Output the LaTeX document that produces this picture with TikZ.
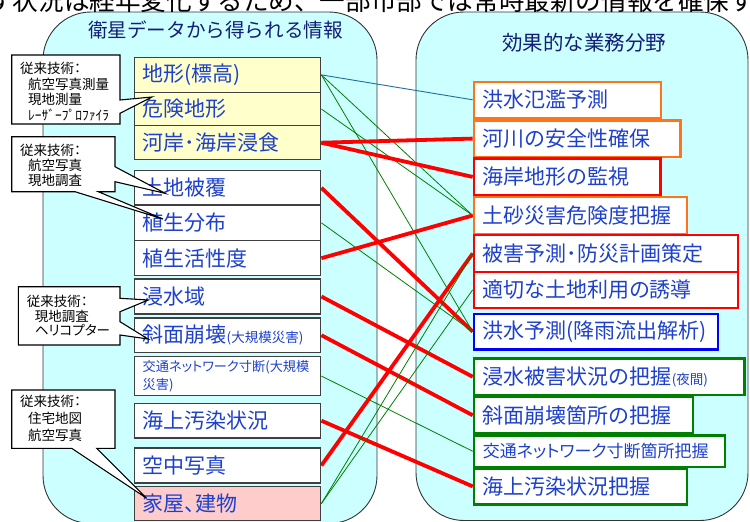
\documentclass[tikz,border=0pt]{standalone}
\usepackage{fontspec}
\setmainfont{Noto Sans CJK JP}[RawFeature={+palt}]
\newfontfamily\fullw{Noto Sans CJK JP}
\pgfdeclarelayer{bg}
\pgfdeclarelayer{mid}
\pgfsetlayers{bg,mid,main}
\definecolor{cyanfill}{RGB}{204,255,255}
\definecolor{ylw}{RGB}{255,255,204}
\definecolor{pnk}{RGB}{255,204,204}
\definecolor{txtblue}{RGB}{30,65,205}
\definecolor{navy}{RGB}{20,30,120}
\definecolor{org}{RGB}{255,115,25}
\definecolor{rd}{RGB}{255,0,0}
\definecolor{grn}{RGB}{0,128,0}
\definecolor{blu}{RGB}{0,0,255}
\definecolor{lnblue}{RGB}{30,110,160}
\tikzset{
  panel/.style={fill=cyanfill, draw=black!80, line width=0.9pt, rounded corners=48pt},
  lbox/.style={draw=black!75, line width=1.4pt, anchor=north west, inner xsep=8.5pt, inner ysep=0pt,
    align=left, text width=169.5pt, font=\fontsize{21}{24}\selectfont, text=txtblue, fill=white},
  rbox/.style={line width=2.2pt, anchor=north west, inner xsep=9pt, inner ysep=0pt,
    align=left, font=\fontsize{21}{24}\selectfont, text=txtblue, fill=white},
  redln/.style={draw=rd, line width=3.8pt},
  grnln/.style={draw=grn, line width=0.8pt},
  bluln/.style={draw=lnblue, line width=0.9pt},
  callout/.style={fill=white, draw=black, line width=1.1pt},
  ctext/.style={anchor=west, inner sep=0pt, align=left, text=black},
  titletext/.style={text=navy, inner sep=0pt}
}
\newcommand{\smalltxt}[1]{{\fontsize{13.5}{15}\selectfont #1}}
\begin{document}
\begin{tikzpicture}[x=1pt,y=-1pt]
\useasboundingbox (0,0) rectangle (750,522);

% panels
\begin{pgfonlayer}{bg}
\path[panel] (43,12) rectangle (377,523.5);
\path[panel] (416,12) rectangle (748,520.5);
\end{pgfonlayer}

% top cut text
\node[anchor=base west, inner sep=0pt, font=\fullw\fontsize{25.6}{30}\selectfont] (top) at (-13,10.5)
  {す状況は経年変化するため、一部市部では常時最新の情報を確保す};

% titles
\node[titletext, font=\fullw\fontsize{19.6}{24}\selectfont] (ttl) at (215.5,30) {衛星データから得られる情報};
\node[titletext, font=\fullw\fontsize{20.5}{24}\selectfont] (ttr) at (584,43) {効果的な業務分野};

% left boxes
\node[lbox, fill=ylw, minimum height=35pt]   (l1) at (133.5,56.7)  {地形(標高)};
\node[lbox, fill=ylw, minimum height=33.3pt] (l2) at (133.5,91.7)  {危険地形};
\node[lbox, fill=ylw, minimum height=34pt]   (l3) at (133.5,125)   {河岸･海岸浸食};
\node[lbox, minimum height=34.3pt] (l4) at (133.5,170)   {土地被覆};
\node[lbox, minimum height=35.7pt] (l5) at (133.5,204.3) {植生分布};
\node[lbox, minimum height=35pt]   (l6) at (133.5,240)   {植生活性度};
\node[lbox, minimum height=35pt]   (l7) at (133.5,278.3) {浸水域};
\node[lbox, minimum height=34.4pt] (l8) at (133.5,317.3) {斜面崩壊\smalltxt{(大規模災害)}};
\node[lbox, minimum height=39.3pt, font=\fontsize{13.2}{18}\selectfont] (l9) at (133.5,355.7)
  {交通ネットワーク寸断(大規模\\災害)};
\node[lbox, minimum height=34.6pt] (l10) at (133.5,402.7) {海上汚染状況};
\node[lbox, minimum height=35pt]   (l11) at (133.5,447.3) {空中写真};
\node[lbox, fill=pnk, minimum height=34.3pt] (l12) at (133.5,485.7) {家屋、建物};

% right boxes
\node[rbox, draw=org, text width=169.3pt, minimum height=36pt]   (r1) at (472.7,80.7)  {洪水氾濫予測};
\node[rbox, draw=org, text width=188.6pt, minimum height=36.4pt] (r2) at (472.7,119.3) {河川の安全性確保};
\node[rbox, draw=rd,  text width=168.6pt, minimum height=37pt]   (r3) at (472.7,157.3) {海岸地形の監視};
\node[rbox, draw=org, text width=195.3pt, minimum height=36.7pt] (r4) at (472.7,196)   {土砂災害危険度把握};
\node[rbox, draw=rd,  text width=246pt,   minimum height=36.7pt] (r5) at (472.7,234)   {被害予測･防災計画策定};
\node[rbox, draw=rd,  text width=246pt,   minimum height=36pt]   (r6) at (472.7,270.7) {適切な土地利用の誘導};
\node[rbox, draw=blu, text width=226pt,   minimum height=35.6pt] (r7) at (472.7,312.7) {洪水予測(降雨流出解析)};
\node[rbox, draw=grn, text width=252.6pt, minimum height=36.7pt] (r8) at (472.7,357.3) {浸水被害状況{\fullw の}把握\smalltxt{(夜間)}};
\node[rbox, draw=grn, text width=201pt,   minimum height=36.3pt] (r9) at (472.7,396)   {斜面崩壊箇所の把握};
\node[rbox, draw=grn, text width=233.3pt, minimum height=31.7pt, font=\fontsize{17}{20}\selectfont] (r10) at (472.7,434.3) {交通ネットワーク寸断箇所把握};
\node[rbox, draw=grn, text width=195.3pt, minimum height=36pt]   (r11) at (472.7,467.3) {海上汚染状況把握};

% connectors
\begin{pgfonlayer}{mid}
\draw[bluln] (l1.east) -- (r1.west);
\draw[grnln] (l1.east) -- (r4.west);
\draw[grnln] (l1.east) -- (r7.west);
\draw[grnln] (l2.east) -- (r4.west);
\draw[redln] (l3.east) -- (r2.west);
\draw[redln] (l3.east) -- (r3.west);
\draw[redln] (l4.east) -- (r7.west);
\draw[grnln] (l5.east) -- (r7.west);
\draw[redln] (l6.east) -- (r4.west);
\draw[redln] (l7.east) -- (r8.west);
\draw[redln] (l8.east) -- (r9.west);
\draw[grnln] (l9.east) -- (r10.west);
\draw[redln] (l10.east) -- (r11.west);
\draw[redln] (l11.east) -- (r5.west);
\draw[grnln] (l12.east) -- (r5.west);
\draw[grnln] (l12.east) -- (r6.west);
\end{pgfonlayer}

% callouts
\path[callout] (11.7,55) -- (120,55) -- (120,100) -- (152,97) -- (120,113.3) -- (120,124) -- (11.7,124) -- cycle;
\node[ctext, font=\fontsize{13.5}{15.6}\selectfont] (c1) at (20,91.7)
  {従来技術：\\\hspace*{8pt}航空写真測量\\\hspace*{8pt}現地測量\\\hspace*{8pt}ﾚｰｻﾞｰﾌﾟﾛﾌｧｲﾗ};

\path[callout] (11.7,136.7) -- (115,136.7) -- (115,166.7) -- (165,193.3) -- (115,181.7) -- (115,191.7)
  -- (98.3,191.7) -- (163,219) -- (75,191.7) -- (11.7,191.7) -- cycle;
\node[ctext, font=\fontsize{13.5}{14.8}\selectfont] (c2) at (20,165.3)
  {従来技術：\\\hspace*{8pt}航空写真\\\hspace*{8pt}現地調査};

\path[callout] (18.3,286.7) -- (120,286.7) -- (120,298.3) -- (148.3,300) -- (120,311.7) -- (120,321.7)
  -- (148,339) -- (120,335) -- (120,345) -- (18.3,345) -- cycle;
\node[ctext, font=\fontsize{13.5}{14.3}\selectfont] (c3) at (26.7,315.8)
  {従来技術：\\\hspace*{8pt}現地調査\\\hspace*{8pt}ヘリコプター};

\path[callout] (11.7,390) -- (115,390) -- (115,448.3) -- (96.7,448.3) -- (146.7,498.3) -- (71.7,448.3)
  -- (11.7,448.3) -- cycle;
\node[ctext, font=\fontsize{13.5}{16.7}\selectfont] (c4) at (20,418.3)
  {従来技術：\\\hspace*{8pt}住宅地図\\\hspace*{8pt}航空写真};
\end{tikzpicture}
\end{document}
